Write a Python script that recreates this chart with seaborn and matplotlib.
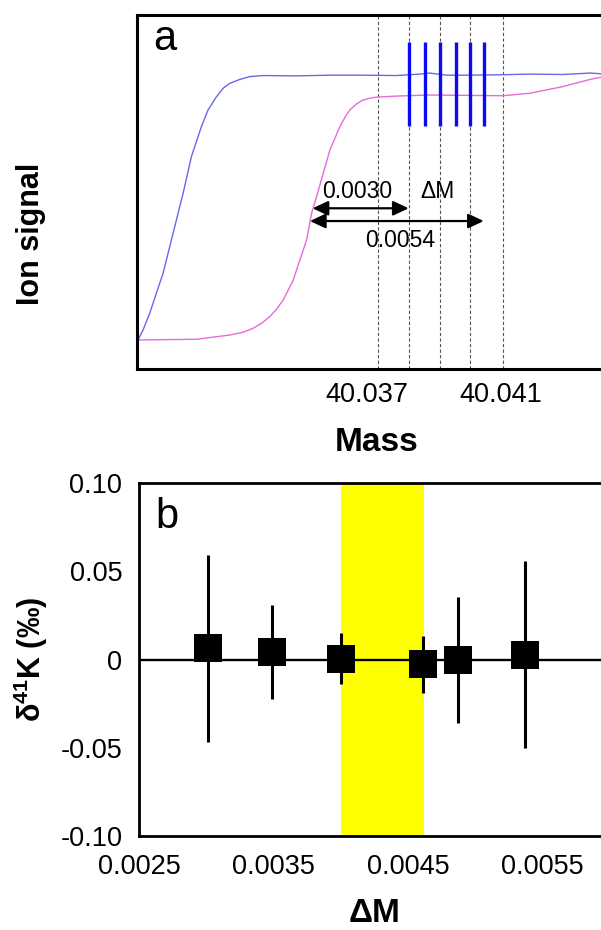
import matplotlib
matplotlib.use("Agg")
import matplotlib.pyplot as plt
import pandas as pd
import seaborn as sns

# ---- panel a: peak-edge scans (mass, normalised ion signal) ----
mass_blue = [40.03013, 40.03028, 40.03048, 40.03068, 40.03088, 40.03118, 40.03148,
             40.03173, 40.03203, 40.03223, 40.03248, 40.03268, 40.03288, 40.03318,
             40.03348, 40.03388, 40.03488, 40.03588, 40.03687, 40.03787, 40.03857,
             40.03887, 40.03937, 40.03987, 40.04087, 40.04187, 40.04287, 40.04367,
             40.04400]
signal_blue = [0.082, 0.110, 0.157, 0.214, 0.270, 0.383, 0.496,
               0.600, 0.685, 0.732, 0.769, 0.793, 0.807, 0.818,
               0.826, 0.829, 0.828, 0.830, 0.830, 0.829, 0.833,
               0.836, 0.830, 0.830, 0.831, 0.833, 0.832, 0.836,
               0.834]
mass_pink = [40.03013, 40.03188, 40.03288, 40.03328, 40.03358, 40.03383, 40.03408,
             40.03428, 40.03448, 40.03478, 40.03498, 40.03518, 40.03533, 40.03548,
             40.03568, 40.03588, 40.03618, 40.03633, 40.03648, 40.03668, 40.03687,
             40.03708, 40.03728, 40.03788, 40.03887, 40.03987, 40.04107, 40.04187,
             40.04287, 40.04367, 40.04400]
signal_pink = [0.082, 0.084, 0.096, 0.104, 0.115, 0.129, 0.148,
               0.169, 0.195, 0.251, 0.308, 0.364, 0.440, 0.487,
               0.553, 0.619, 0.685, 0.711, 0.732, 0.749, 0.760,
               0.765, 0.768, 0.771, 0.774, 0.773, 0.772, 0.779,
               0.798, 0.818, 0.824]
window_mass = [40.03731, 40.03824, 40.03917, 40.04007, 40.04105]
peak_mass = [40.03824, 40.03872, 40.03917, 40.03965, 40.04007, 40.04049]
peak_lo, peak_hi = 0.686, 0.924
mass_ticks = [40.037, 40.041]
mass_tick_labels = ["40.037", "40.041"]

# ---- panel b: d41K vs delta M ----
delta_m = [0.00301, 0.00349, 0.00400, 0.00461, 0.00487, 0.00537]
d41k = [0.0064, 0.0041, 0.0004, -0.0027, -0.0001, 0.0027]
d41k_err = [0.053, 0.0266, 0.0145, 0.016, 0.0357, 0.053]
band_lo, band_hi = 0.0040, 0.00462
dm_ticks = [0.0025, 0.0030, 0.0035, 0.0040, 0.0045, 0.0050, 0.0055]
dm_labels = ["0.0025", "", "0.0035", "", "0.0045", "", "0.0055"]
d41k_ticks = [-0.10, -0.05, 0.0, 0.05, 0.10]
d41k_labels = ["-0.10", "-0.05", "0", "0.05", "0.10"]

sns.set_style("white")
plt.rcParams["font.family"] = ["Liberation Sans", "DejaVu Sans"]
plt.rcParams["mathtext.fontset"] = "custom"
plt.rcParams["mathtext.bf"] = "Liberation Sans:bold"
plt.rcParams["mathtext.rm"] = "Liberation Sans:bold"
plt.rcParams["mathtext.default"] = "bf"
for key in ["text.color", "axes.labelcolor", "xtick.color", "ytick.color"]:
    plt.rcParams[key] = "black"

fig = plt.figure(figsize=(6.01, 9.30), dpi=100)
ax_a = fig.add_axes([137 / 601, 1 - 369 / 930, 479 / 601, 354 / 930])
ax_b = fig.add_axes([139 / 601, 1 - 836 / 930, 471 / 601, 353 / 930])

# ----- panel a -----
blue_df = pd.DataFrame({"mass": mass_blue, "signal": signal_blue})
pink_df = pd.DataFrame({"mass": mass_pink, "signal": signal_pink})
for m in window_mass:
    ax_a.axvline(m, color="#555555", lw=0.8, ls=(0, (3, 2)), zorder=1)
sns.lineplot(data=blue_df, x="mass", y="signal", ax=ax_a, color="#6868e8", lw=1.0,
             sort=False, zorder=2)
sns.lineplot(data=pink_df, x="mass", y="signal", ax=ax_a, color="#e86ad8", lw=1.0,
             sort=False, zorder=2)
ax_a.vlines(peak_mass, peak_lo, peak_hi, color="#0a0af5", lw=2.4, zorder=3)

ax_a.annotate("", xy=(peak_mass[0], 0.454), xytext=(40.03536, 0.454),
              arrowprops=dict(arrowstyle="<|-|>,head_length=0.47,head_width=0.22",
                              mutation_scale=20, lw=1.6, color="black",
                              shrinkA=0, shrinkB=0), zorder=4)
ax_a.annotate("", xy=(peak_mass[-1], 0.418), xytext=(40.03528, 0.418),
              arrowprops=dict(arrowstyle="<|-|>,head_length=0.47,head_width=0.22",
                              mutation_scale=20, lw=1.6, color="black",
                              shrinkA=0, shrinkB=0), zorder=4)
ax_a.text(40.03670, 0.483, "0.0030", ha="center", va="baseline", fontsize=16.5)
ax_a.text(40.03911, 0.483, "ΔM", ha="center", va="baseline", fontsize=16.5)
ax_a.text(40.03797, 0.345, "0.0054", ha="center", va="baseline", fontsize=16.5)

ax_a.set_xlim(40.0301, 40.04445)
ax_a.set_ylim(0, 1)
ax_a.set_xticks(mass_ticks)
ax_a.set_xticklabels(mass_tick_labels)
ax_a.set_yticks([])
ax_a.tick_params(axis="x", length=0, pad=9, labelsize=19.5)
for side in ["left", "top", "bottom"]:
    ax_a.spines[side].set_linewidth(2.2)
    ax_a.spines[side].set_color("black")
ax_a.spines["right"].set_visible(False)
ax_a.set_xlabel("Mass", fontsize=24, fontweight="bold")
ax_a.set_ylabel("Ion signal", fontsize=22, fontweight="bold")
ax_a.xaxis.set_label_coords(0.5, -0.163)
ax_a.yaxis.set_label_coords(-0.19, 0.383)

# ----- panel b -----
ax_b.axvspan(band_lo, band_hi, color="#ffff00", lw=0, zorder=0)
ax_b.axhline(0, color="black", lw=1.7, zorder=1)
ax_b.errorbar(delta_m, d41k, yerr=d41k_err, fmt="none", ecolor="black",
              elinewidth=2.2, capsize=0, zorder=2)
pts = pd.DataFrame({"dM": delta_m, "d41K": d41k})
sns.scatterplot(data=pts, x="dM", y="d41K", ax=ax_b, marker="s", s=20.5 ** 2,
                color="black", linewidth=0, zorder=3)

ax_b.set_xlim(0.0025, 0.0060)
ax_b.set_ylim(-0.10, 0.10)
ax_b.set_xticks(dm_ticks)
ax_b.set_xticklabels(dm_labels)
ax_b.set_yticks(d41k_ticks)
ax_b.set_yticklabels(d41k_labels)
ax_b.tick_params(axis="both", direction="in", length=5.5, width=1.5,
                 labelsize=19.5, color="black")
ax_b.tick_params(axis="x", pad=13)
ax_b.tick_params(axis="y", pad=12)
for side in ["left", "top", "bottom"]:
    ax_b.spines[side].set_linewidth(2.0)
    ax_b.spines[side].set_color("black")
ax_b.spines["right"].set_visible(False)
ax_b.set_xlabel("ΔM", fontsize=24, fontweight="bold")
ax_b.set_ylabel("δ$^{41}$K (‰)", fontsize=22, fontweight="bold")
ax_b.xaxis.set_label_coords(0.5, -0.175)
ax_b.yaxis.set_label_coords(-0.19, 0.5)

fig.text(153 / 601, 1 - 50 / 930, "a", fontsize=30, va="baseline")
fig.text(155 / 601, 1 - 528 / 930, "b", fontsize=30, va="baseline")

fig.savefig("out.png", dpi=100)
